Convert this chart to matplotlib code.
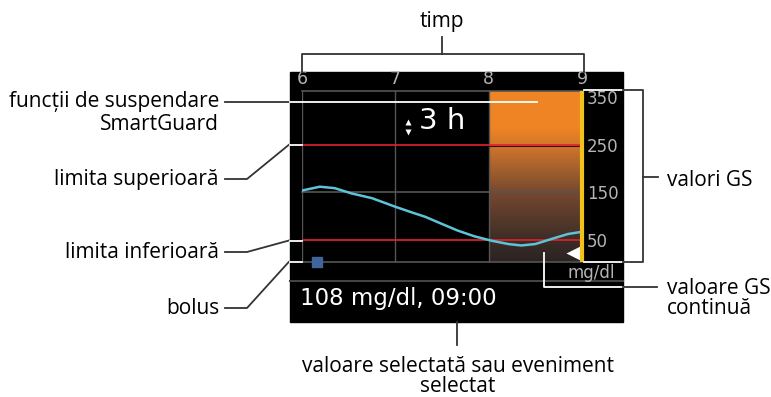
import matplotlib
matplotlib.use("Agg")
import matplotlib.pyplot as plt
import numpy as np
from matplotlib.colors import LinearSegmentedColormap

# screen data
hours = [6, 7, 8, 9]
gs_ticks = [350, 250, 150, 50]
upper_limit = 250
lower_limit = 50
cgm_time = [6.00, 6.19, 6.35, 6.53, 6.75, 7.00, 7.18, 7.32, 7.50, 7.67,
            7.85, 8.03, 8.21, 8.35, 8.50, 8.68, 8.85, 8.98]
cgm_value = [154, 162, 159, 148, 138, 120, 108, 99, 84, 70,
             58, 49, 42, 39, 42, 53, 63, 67]
suspend_start = 8
suspend_end = 9
bolus_time = [6.16]
current_time = 8.91
current_marker_gs = 24
window_label = "3 h"
selected_label = "108 mg/dl, 09:00"
unit_label = "mg/dl"

W, H = 771, 397
ann_font = "Open Sans"
scr_font = "DejaVu Sans"
ann_color = "#333333"
grid_gray = "#555555"
lbl_gray = "#b4b4b4"
ann_size = 15

fig = plt.figure(figsize=(W / 100, H / 100), dpi=100)

# background layer (pixel coordinates)
bg = fig.add_axes([0, 0, 1, 1], zorder=0)
bg.set_xlim(0, W)
bg.set_ylim(H, 0)
bg.axis("off")
bg.add_patch(plt.Rectangle((290, 72), 333, 250, color="black"))
bg.plot([290, 623], [280.7, 280.7], color="#444444", lw=1.5)

# graph area
ax = fig.add_axes([302 / W, (H - 261.7) / H, 280 / W, 171 / H], zorder=1)
ax.set_facecolor("none")
ax.set_xlim(6, 9)
ax.set_ylim(5, 363)
for s in ax.spines.values():
    s.set_visible(False)

# SmartGuard suspend gradient
cmap = LinearSegmentedColormap.from_list(
    "susp", [(0, "#2a2323"), (0.12, "#3b2c27"), (0.40, "#75482f"),
             (0.68, "#d2772a"), (0.78, "#ef8424"), (1, "#f08524")])
grad = np.linspace(0, 1, 256).reshape(-1, 1)
ax.imshow(grad, extent=[suspend_start, suspend_end, 5, 363], origin="lower",
          aspect="auto", cmap=cmap, zorder=0.5)

for h in hours[:-1]:
    ax.axvline(h, color=grid_gray, lw=1, zorder=1)
for y in [363, 150, 5]:
    ax.axhline(y, color=grid_gray, lw=1.2, zorder=1, clip_on=False)
ax.axhline(upper_limit, color="#e3222a", lw=1.2, zorder=2)
ax.plot([suspend_start, suspend_end], [upper_limit - 3, upper_limit - 3],
        color="#3a1010", lw=0.8, zorder=2)
ax.axhline(lower_limit, color="#e3222a", lw=1.2, zorder=2)

ax.plot(cgm_time, cgm_value, color="#5ec3d6", lw=1.8, zorder=3)
ax.plot(bolus_time, [5] * len(bolus_time), "s", color="#3f659a", ms=7.5,
        clip_on=False, zorder=4)
ax.plot([current_time], [current_marker_gs], "<", color="white", ms=12,
        mec="none", zorder=4)
ax.plot([suspend_end, suspend_end], [5, 363], color="#f2c11c", lw=3,
        solid_capstyle="butt", zorder=5, clip_on=False)

ax.xaxis.tick_top()
ax.set_xticks(hours, [str(h) for h in hours])
ax.tick_params(axis="x", length=0, pad=2, labelsize=12.5, colors=lbl_gray)
ax.yaxis.tick_right()
ax.set_yticks(gs_ticks, [str(v) for v in gs_ticks])
ax.tick_params(axis="y", length=0, pad=3.5, labelsize=12, colors=lbl_gray)
for t in ax.get_xticklabels() + ax.get_yticklabels():
    t.set_fontfamily(scr_font)

# foreground layer: annotations and screen text
fg = fig.add_axes([0, 0, 1, 1], zorder=2)
fg.set_facecolor("none")
fg.set_xlim(0, W)
fg.set_ylim(H, 0)
fg.axis("off")

fg.text(442, 121, window_label, color="white", fontsize=21, family=scr_font,
        ha="center", va="center")
fg.plot([407.7], [121.5], "^", color="white", ms=5, mec="none")
fg.plot([407.7], [132], "v", color="white", ms=5, mec="none")
fg.text(615, 272.5, unit_label, color=lbl_gray, fontsize=12, family=scr_font,
        ha="right", va="center")
fg.text(300, 299, selected_label, color="white", fontsize=16.5, family=scr_font,
        ha="left", va="center")

lw = 1.3
# timp
fg.plot([301.7, 301.7, 584, 584], [72, 54.3, 54.3, 72], color=ann_color, lw=lw)
fg.plot([441.7, 441.7], [36.7, 54.3], color=ann_color, lw=lw)
fg.text(441.7, 21, "timp", fontsize=ann_size, family=ann_font, ha="center", va="center")

# left side
fg.plot([225, 290], [101.7, 101.7], color=ann_color, lw=lw)
fg.plot([290, 537], [101.7, 101.7], color="white", lw=lw)
fg.text(219, 102, "funcții de suspendare", fontsize=ann_size, family=ann_font,
        ha="right", va="center")
fg.text(219, 124, "SmartGuard", fontsize=ann_size, family=ann_font,
        ha="right", va="center")
for ytxt, yline, label in [(180, 144.7, "limita superioară"),
                           (253, 240.5, "limita inferioară"),
                           (309, 261.7, "bolus")]:
    fg.plot([225, 247, 289, 290], [ytxt - 1, ytxt - 1, yline, yline],
            color=ann_color, lw=lw)
    fg.plot([290, 302], [yline, yline], color="white", lw=lw)
    fg.text(219, ytxt, label, fontsize=ann_size, family=ann_font, ha="right", va="center")

# right side
fg.plot([584, 623], [90, 90], color="white", lw=lw)
fg.plot([584, 623], [261.7, 261.7], color="white", lw=lw)
fg.plot([623, 643.3, 643.3, 623], [90, 90, 261.7, 261.7], color=ann_color, lw=lw)
fg.plot([643.3, 658], [177.3, 177.3], color=ann_color, lw=lw)
fg.text(667, 181, "valori GS", fontsize=ann_size, family=ann_font, ha="left", va="center")

fg.plot([544.3, 544.3, 623], [253.3, 287.3, 287.3], color="white", lw=lw)
fg.plot([623, 657], [287.3, 287.3], color=ann_color, lw=lw)
fg.text(667, 289, "valoare GS", fontsize=ann_size, family=ann_font, ha="left", va="center")
fg.text(667, 309, "continuă", fontsize=ann_size, family=ann_font, ha="left", va="center")

# bottom
fg.plot([456.7, 456.7], [322, 345], color=ann_color, lw=lw)
fg.text(458, 366, "valoare selectată sau eveniment", fontsize=ann_size, family=ann_font,
        ha="center", va="center")
fg.text(458, 386, "selectat", fontsize=ann_size, family=ann_font, ha="center", va="center")

fig.savefig("out.png", dpi=100)
